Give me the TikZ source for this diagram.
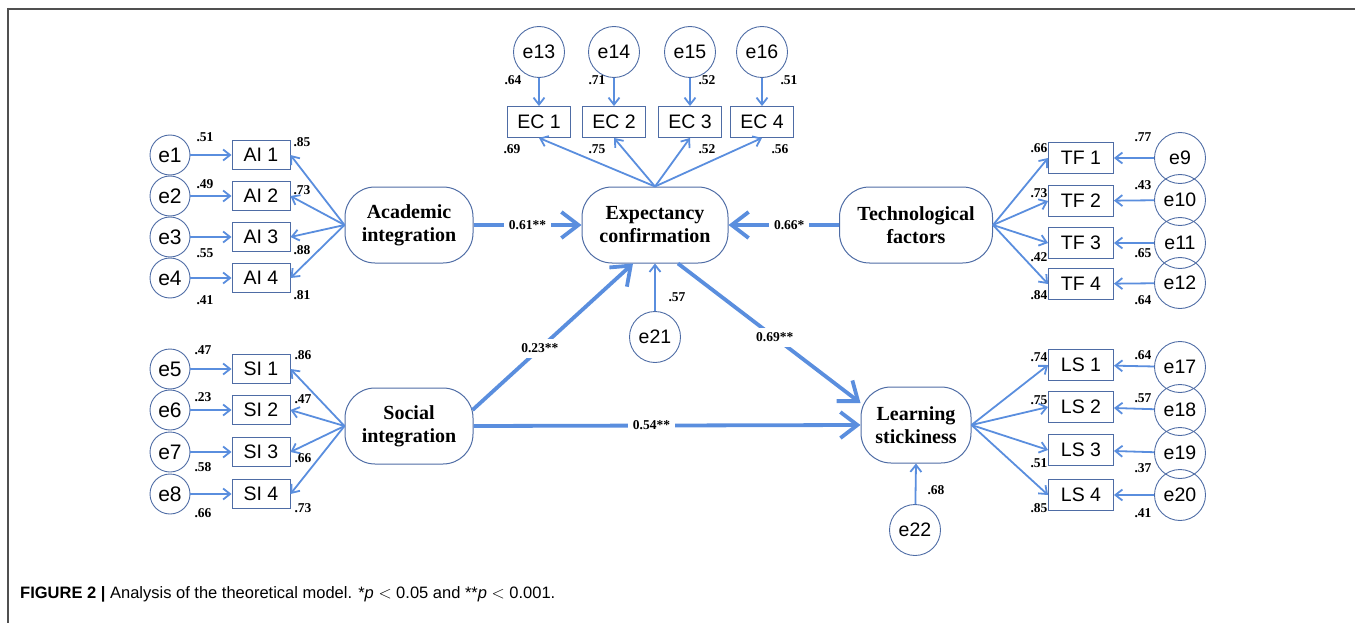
\documentclass[tikz,border=0pt]{standalone}
\usepackage{fontspec}
\setmainfont{Liberation Serif}
\newfontfamily\arial{Liberation Sans}
\usetikzlibrary{arrows.meta,calc}
\definecolor{arr}{RGB}{90,142,222}
\definecolor{bord}{RGB}{78,108,165}
\definecolor{frame}{RGB}{80,80,80}
\begin{document}
\begin{tikzpicture}[x=1pt,y=-1pt,
  err/.style={circle,draw=bord,line width=0.9pt,minimum size=40pt,inner sep=0pt,font=\arial\fontsize{21}{21}\selectfont},
  errb/.style={err,minimum size=51pt,font=\arial\fontsize{19.5}{19.5}\selectfont},
  obs/.style={rectangle,draw=bord,line width=0.9pt,minimum width=58pt,minimum height=29pt,inner sep=0pt,font=\arial\fontsize{19.5}{19.5}\selectfont},
  obsw/.style={obs,minimum width=65pt,minimum height=31pt},
  lat/.style={rectangle,rounded corners=30pt,draw=bord,line width=1pt,minimum height=76pt,align=center,font=\bfseries\fontsize{20}{23}\selectfont},
  thinarr/.style={draw=arr,line width=1.8pt,-{Straight Barb[length=7pt,width=11pt]}},
  thickarr/.style={draw=arr,line width=3.8pt,-{Straight Barb[length=17pt,width=26pt]}},
  coef/.style={font=\bfseries\fontsize{13.5}{14}\selectfont,inner sep=1pt},
  pathlab/.style={font=\bfseries\fontsize{13.5}{14}\selectfont,fill=white,inner sep=5pt}
]
\useasboundingbox (0,0) rectangle (1355,623);
% frame
\draw[frame,line width=2pt] (7,9) -- (1355,9);
\draw[frame,line width=1.2pt] (8,8) -- (8,623);

% latent variables
\node[lat,minimum width=128pt] (AI) at (409,225) {Academic\\integration};
\node[lat,minimum width=128pt] (SI) at (409,426) {Social\\integration};
\node[lat,minimum width=146pt] (EC) at (655,225) {Expectancy\\confirmation};
\node[lat,minimum width=153pt] (TF) at (916,225) {Technological\\factors};
\node[lat,minimum width=110pt] (LS) at (916,425) {Learning\\stickiness};

% Academic integration block
\foreach \i/\y/\ey/\a/\ax/\ay/\b/\by in {1/155/155/.51/205/137/.85/142, 2/196/196/.49/205/184/.73/190, 3/237/237/.55/205/253/.88/250, 4/278/278/.41/205/300/.81/295}{
  \node[err] (e\i) at (170,\ey) {e\i};
  \node[obs] (AI\i) at (261,\y) {AI \i};
  \draw[thinarr] (e\i) -- (AI\i);
  \draw[thinarr] (AI.west) -- (AI\i.east);
  \node[coef] (ev\i) at (\ax,\ay) {\a};
  \node[coef] (ld\i) at (302,\by) {\b};
}
% Social integration block
\foreach \i/\k/\y/\a/\ay/\b/\by in {5/1/369/.47/350/.86/355, 6/2/410/.23/397/.47/399, 7/3/452/.58/467/.66/458, 8/4/494/.66/513/.73/508}{
  \node[err] (e\i) at (170,\y) {e\i};
  \node[obs] (SI\k) at (261,\y) {SI \k};
  \draw[thinarr] (e\i) -- (SI\k);
  \draw[thinarr] (SI.west) -- (SI\k.east);
  \node[coef] (ev\i) at (203,\ay) {\a};
  \node[coef] (ld\i) at (303,\by) {\b};
}
% Expectancy confirmation block
\foreach \i/\k/\x/\a/\ax/\b/\bx in {13/1/539/.64/513/.69/512, 14/2/614/.71/597/.75/597, 15/3/690/.52/707/.52/707, 16/4/762/.51/789/.56/780}{
  \node[errb] (e\i) at (\x,52) {e\i};
  \node[obsw,minimum width=63pt] (EC\k) at (\x,122) {EC \k};
  \draw[thinarr] (e\i) -- (EC\k);
  \draw[thinarr] (EC.north) -- (EC\k.south);
  \node[coef] (ev\i) at (\ax,80) {\a};
  \node[coef] (ld\i) at (\bx,149) {\b};
}
% Technological factors block
\foreach \i/\k/\y/\ey/\a/\ay/\b/\by in {9/1/158/158/.77/137/.66/148, 10/2/201/200/.43/185/.73/193, 11/3/243/243/.65/253/.42/257, 12/4/284/283/.64/300/.84/295}{
  \node[errb] (e\i) at (1180,\ey) {e\i};
  \node[obsw] (TF\k) at (1081,\y) {TF \k};
  \draw[thinarr] (e\i) -- (TF\k);
  \draw[thinarr] (TF.east) -- (TF\k.west);
  \node[coef] (ev\i) at (1143,\ay) {\a};
  \node[coef] (ld\i) at (1039,\by) {\b};
}
% Learning stickiness block
\foreach \i/\k/\y/\ey/\a/\ay/\b/\by in {17/1/365/367/.64/355/.74/357, 18/2/407/410/.57/398/.75/400, 19/3/450/453/.37/468/.51/463, 20/4/495/495/.41/513/.85/508}{
  \node[errb] (e\i) at (1180,\ey) {e\i};
  \node[obsw] (LS\k) at (1081,\y) {LS \k};
  \draw[thinarr] (e\i) -- (LS\k);
  \draw[thinarr] (LS.east) -- (LS\k.west);
  \node[coef] (ev\i) at (1143,\ay) {\a};
  \node[coef] (ld\i) at (1039,\by) {\b};
}

% disturbances
\node[errb] (e21) at (655,337) {e21};
\draw[thinarr] (e21) -- (EC.south);
\node[coef] (ev21) at (677,297) {.57};
\node[errb] (e22) at (915,530) {e22};
\draw[thinarr] (e22) -- (LS.south);
\node[coef] (ev22) at (936,490) {.68};

% structural paths
\coordinate (SIout) at ($(SI.east)+(-1,-16)$);
\coordinate (ECin) at ($(EC.south)+(-22,0)$);
\coordinate (ECout) at ($(EC.south)+(23,0)$);
\coordinate (LSin) at ($(LS.west)+(0,-22)$);
\draw[thickarr] (AI.east) -- node[pathlab] (p1) {0.61**} (EC.west);
\draw[thickarr] (TF.west) -- node[pathlab,pos=0.45] (p2) {0.66*} (EC.east);
\draw[thickarr] (SIout) -- node[pathlab,pos=0.42] (p3) {0.23**} (ECin);
\draw[thickarr] (ECout) -- node[pathlab,pos=0.53] (p4) {0.69**} (LSin);
\draw[thickarr] (SI.east) -- node[pathlab,pos=0.46] (p5) {0.54**} (LS.west);

% caption
\node[anchor=base west,inner sep=0pt] (cap) at (20,598) {\arial\fontsize{16.5}{18}\selectfont\textbf{FIGURE 2 |} Analysis of the theoretical model. *\textit{p} $<$ 0.05 and **\textit{p} $<$ 0.001.};
\end{tikzpicture}
\end{document}
